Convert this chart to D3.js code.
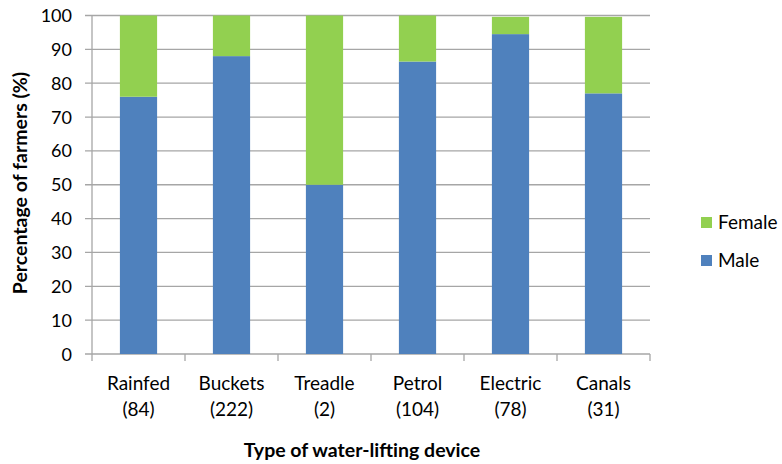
<!DOCTYPE html>
<html>
<head>
<meta charset="utf-8">
<script src="https://cdn.jsdelivr.net/npm/d3@7"></script>
<style>
  html, body { margin: 0; padding: 0; background: #fff; }
  svg text { font-family: Lato, "Open Sans", sans-serif; fill: #000; }
</style>
</head>
<body>
<svg id="chart" width="782" height="464"></svg>
<script>
// Water-lifting device categories and sample sizes
const devices = ["Rainfed", "Buckets", "Treadle", "Petrol", "Electric", "Canals"];
const counts = ["(84)", "(222)", "(2)", "(104)", "(78)", "(31)"];
// Percentage of farmers by gender
const male = [76.0, 88.0, 50.0, 86.4, 94.5, 77.0];
const female = [24.0, 12.0, 50.0, 13.6, 5.1, 22.6];
const yTicks = [0, 10, 20, 30, 40, 50, 60, 70, 80, 90, 100];
const seriesNames = ["Male", "Female"];
const colors = { Male: "#4F81BD", Female: "#92D050" };

const svg = d3.select("#chart");
const plotLeft = 92, plotRight = 650, plotTop = 15.5, plotBottom = 354;
const axisColor = "#a6a6a6";

const x = d3.scaleBand().domain(devices).range([plotLeft, plotRight]).paddingInner(0.6).paddingOuter(0.3);
const y = d3.scaleLinear().domain([0, 100]).range([plotBottom, plotTop]);

// Gridlines
svg.append("g").selectAll("line").data(yTicks).join("line")
  .attr("x1", plotLeft - 7).attr("x2", plotRight)
  .attr("y1", d => y(d)).attr("y2", d => y(d))
  .attr("stroke", axisColor).attr("stroke-width", 1.3);

// Stacked bars
const rows = devices.map((d, i) => ({ device: d, Male: male[i], Female: female[i] }));
const stacked = d3.stack().keys(seriesNames)(rows);
svg.append("g").selectAll("g").data(stacked).join("g")
  .attr("fill", s => colors[s.key])
  .selectAll("rect").data(s => s).join("rect")
  .attr("x", d => x(d.data.device))
  .attr("width", x.bandwidth())
  .attr("y", d => y(d[1]))
  .attr("height", d => y(d[0]) - y(d[1]));

// Y axis line
svg.append("line").attr("x1", plotLeft).attr("x2", plotLeft).attr("y1", plotTop).attr("y2", plotBottom)
  .attr("stroke", axisColor).attr("stroke-width", 1.3);

// Y tick labels
svg.append("g").selectAll("text").data(yTicks).join("text")
  .attr("x", plotLeft - 20).attr("y", d => y(d) + 6.5)
  .attr("text-anchor", "end").attr("font-size", 18).text(d => d);

// X axis ticks at category boundaries
const bounds = d3.range(devices.length + 1).map(i => plotLeft + i * (plotRight - plotLeft) / devices.length);
svg.append("g").selectAll("line").data(bounds).join("line")
  .attr("x1", d => d).attr("x2", d => d).attr("y1", plotBottom).attr("y2", plotBottom + 7)
  .attr("stroke", axisColor).attr("stroke-width", 1.3);

// X category labels (two lines)
const xl = svg.append("g").selectAll("text").data(devices).join("text")
  .attr("text-anchor", "middle").attr("font-size", 19)
  .attr("x", d => x(d) + x.bandwidth() / 2);
xl.append("tspan").attr("y", 390).text(d => d);
xl.append("tspan").attr("x", d => x(d) + x.bandwidth() / 2).attr("y", 416).text((d, i) => counts[i]);

// Axis titles
svg.append("text").attr("x", 362).attr("y", 457).attr("text-anchor", "middle")
  .attr("font-size", 19.5).attr("font-weight", "bold").text("Type of water-lifting device");
svg.append("text").attr("transform", "translate(27,183) rotate(-90)").attr("text-anchor", "middle")
  .attr("font-size", 19.5).attr("font-weight", "bold").text("Percentage of farmers (%)");

// Legend
const legend = svg.append("g").selectAll("g").data(["Female", "Male"]).join("g")
  .attr("transform", (d, i) => `translate(701,${222.5 + i * 38})`);
legend.append("rect").attr("x", 0).attr("y", -5.5).attr("width", 11).attr("height", 11)
  .attr("fill", d => colors[d]);
legend.append("text").attr("x", 17).attr("y", 6).attr("font-size", 19).text(d => d);
</script>
</body>
</html>
